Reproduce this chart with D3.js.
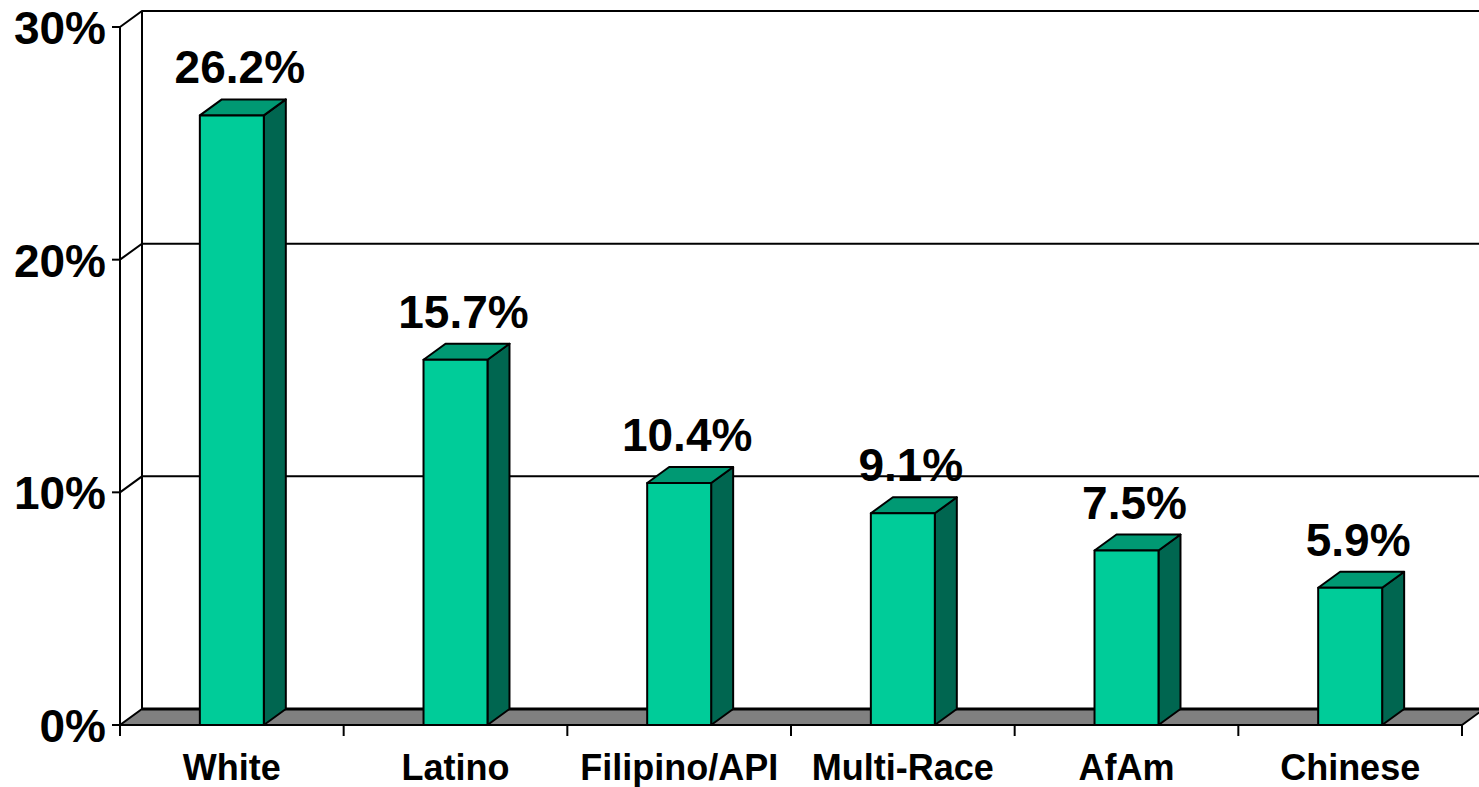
<!DOCTYPE html>
<html>
<head>
<meta charset="utf-8">
<script src="https://cdn.jsdelivr.net/npm/d3@7"></script>
<style>
  html, body { margin: 0; padding: 0; background: #fff; }
  svg { display: block; font-family: "Liberation Sans", Arial, sans-serif; font-weight: bold; }
</style>
</head>
<body>
<svg id="chart" width="1479" height="787"></svg>
<script>
// data
const categories = [`White`, `Latino`, `Filipino/API`, `Multi-Race`, `AfAm`, `Chinese`]
const values = [26.2, 15.7, 10.4, 9.1, 7.5, 5.9]
const yTicks = [0, 10, 20, 30]

// colours
const FRONT = `#00cc99`
const TOP = `#009973`
const SIDE = `#006650`
const FLOOR = `#808080`

// 3d depth offset
const DX = 22
const DY = -16

const svg = d3.select(`#chart`)

const x = d3.scaleBand()
  .domain(categories)
  .range([120, 1462])
  .paddingInner(0.714)
  .paddingOuter(0.357)

const y = d3.scaleLinear().domain([0, 30]).range([725, 27])

const [x0, x1] = x.range()
const line = (g, pts, w = 2) =>
  g.append(`path`)
    .attr(`d`, d3.line()(pts))
    .attr(`fill`, `none`)
    .attr(`stroke`, `#000`)
    .attr(`stroke-width`, w)

//
// walls
//
const walls = svg.append(`g`)

// back wall gridlines + side wall diagonals
yTicks.filter((t) => t > 0).forEach((t) => {
  line(walls, [[x0, y(t)], [x0 + DX, y(t) + DY], [1479, y(t) + DY]])
})
// side wall edges
line(walls, [[x0, y(0)], [x0, y(30)]])
line(walls, [[x0 + DX, y(0) + DY], [x0 + DX, y(30) + DY]])

// floor
walls.append(`path`)
  .attr(`d`, d3.line()([[x0, y(0)], [x1, y(0)], [x1 + DX, y(0) + DY], [x0 + DX, y(0) + DY]]) + `Z`)
  .attr(`fill`, FLOOR)
  .attr(`stroke`, `#000`)
  .attr(`stroke-width`, 2)
line(walls, [[x0 + DX, y(0) + DY], [1479, y(0) + DY]], 3)

//
// axes
//
const yAxis = svg.append(`g`)
yAxis.selectAll(`line`)
  .data(yTicks)
  .join(`line`)
  .attr(`x1`, x0 - 8)
  .attr(`x2`, x0)
  .attr(`y1`, (d) => y(d))
  .attr(`y2`, (d) => y(d))
  .attr(`stroke`, `#000`)
  .attr(`stroke-width`, 2)
yAxis.selectAll(`text`)
  .data(yTicks)
  .join(`text`)
  .attr(`x`, 106)
  .attr(`y`, (d) => y(d) + 17)
  .attr(`text-anchor`, `end`)
  .attr(`font-size`, 46)
  .text((d) => d + `%`)

const xAxis = svg.append(`g`)
const tickXs = categories.map((c) => x(c) - (x.step() - x.bandwidth()) / 2).concat([x1])
xAxis.selectAll(`line`)
  .data(tickXs)
  .join(`line`)
  .attr(`x1`, (d) => d)
  .attr(`x2`, (d) => d)
  .attr(`y1`, y(0))
  .attr(`y2`, y(0) + 11)
  .attr(`stroke`, `#000`)
  .attr(`stroke-width`, 2)
xAxis.selectAll(`text`)
  .data(categories)
  .join(`text`)
  .attr(`x`, (d) => x(d) + x.bandwidth() / 2)
  .attr(`y`, 780)
  .attr(`text-anchor`, `middle`)
  .attr(`font-size`, 36)
  .text((d) => d)

//
// bars
//
const bars = svg.append(`g`)
  .selectAll(`g`)
  .data(categories.map((c, i) => ({ c, v: values[i] })))
  .join(`g`)
  .attr(`stroke`, `#000`)
  .attr(`stroke-width`, 2)
  .attr(`stroke-linejoin`, `round`)

bars.append(`path`) // side
  .attr(`fill`, SIDE)
  .attr(`d`, (d) => {
    const r = x(d.c) + x.bandwidth()
    return d3.line()([[r, y(0)], [r, y(d.v)], [r + DX, y(d.v) + DY], [r + DX, y(0) + DY]]) + `Z`
  })
bars.append(`path`) // top
  .attr(`fill`, TOP)
  .attr(`d`, (d) => {
    const l = x(d.c)
    const r = l + x.bandwidth()
    const t = y(d.v)
    return d3.line()([[l, t], [r, t], [r + DX, t + DY], [l + DX, t + DY]]) + `Z`
  })
bars.append(`rect`) // front
  .attr(`fill`, FRONT)
  .attr(`x`, (d) => x(d.c))
  .attr(`y`, (d) => y(d.v))
  .attr(`width`, x.bandwidth())
  .attr(`height`, (d) => y(0) - y(d.v))

// value labels
svg.append(`g`)
  .selectAll(`text`)
  .data(categories.map((c, i) => ({ c, v: values[i] })))
  .join(`text`)
  .attr(`x`, (d) => x(d.c) + x.bandwidth() / 2 + 8)
  .attr(`y`, (d) => y(d.v) - 32)
  .attr(`text-anchor`, `middle`)
  .attr(`font-size`, 46)
  .text((d) => d.v.toFixed(1) + `%`)
</script>
</body>
</html>
